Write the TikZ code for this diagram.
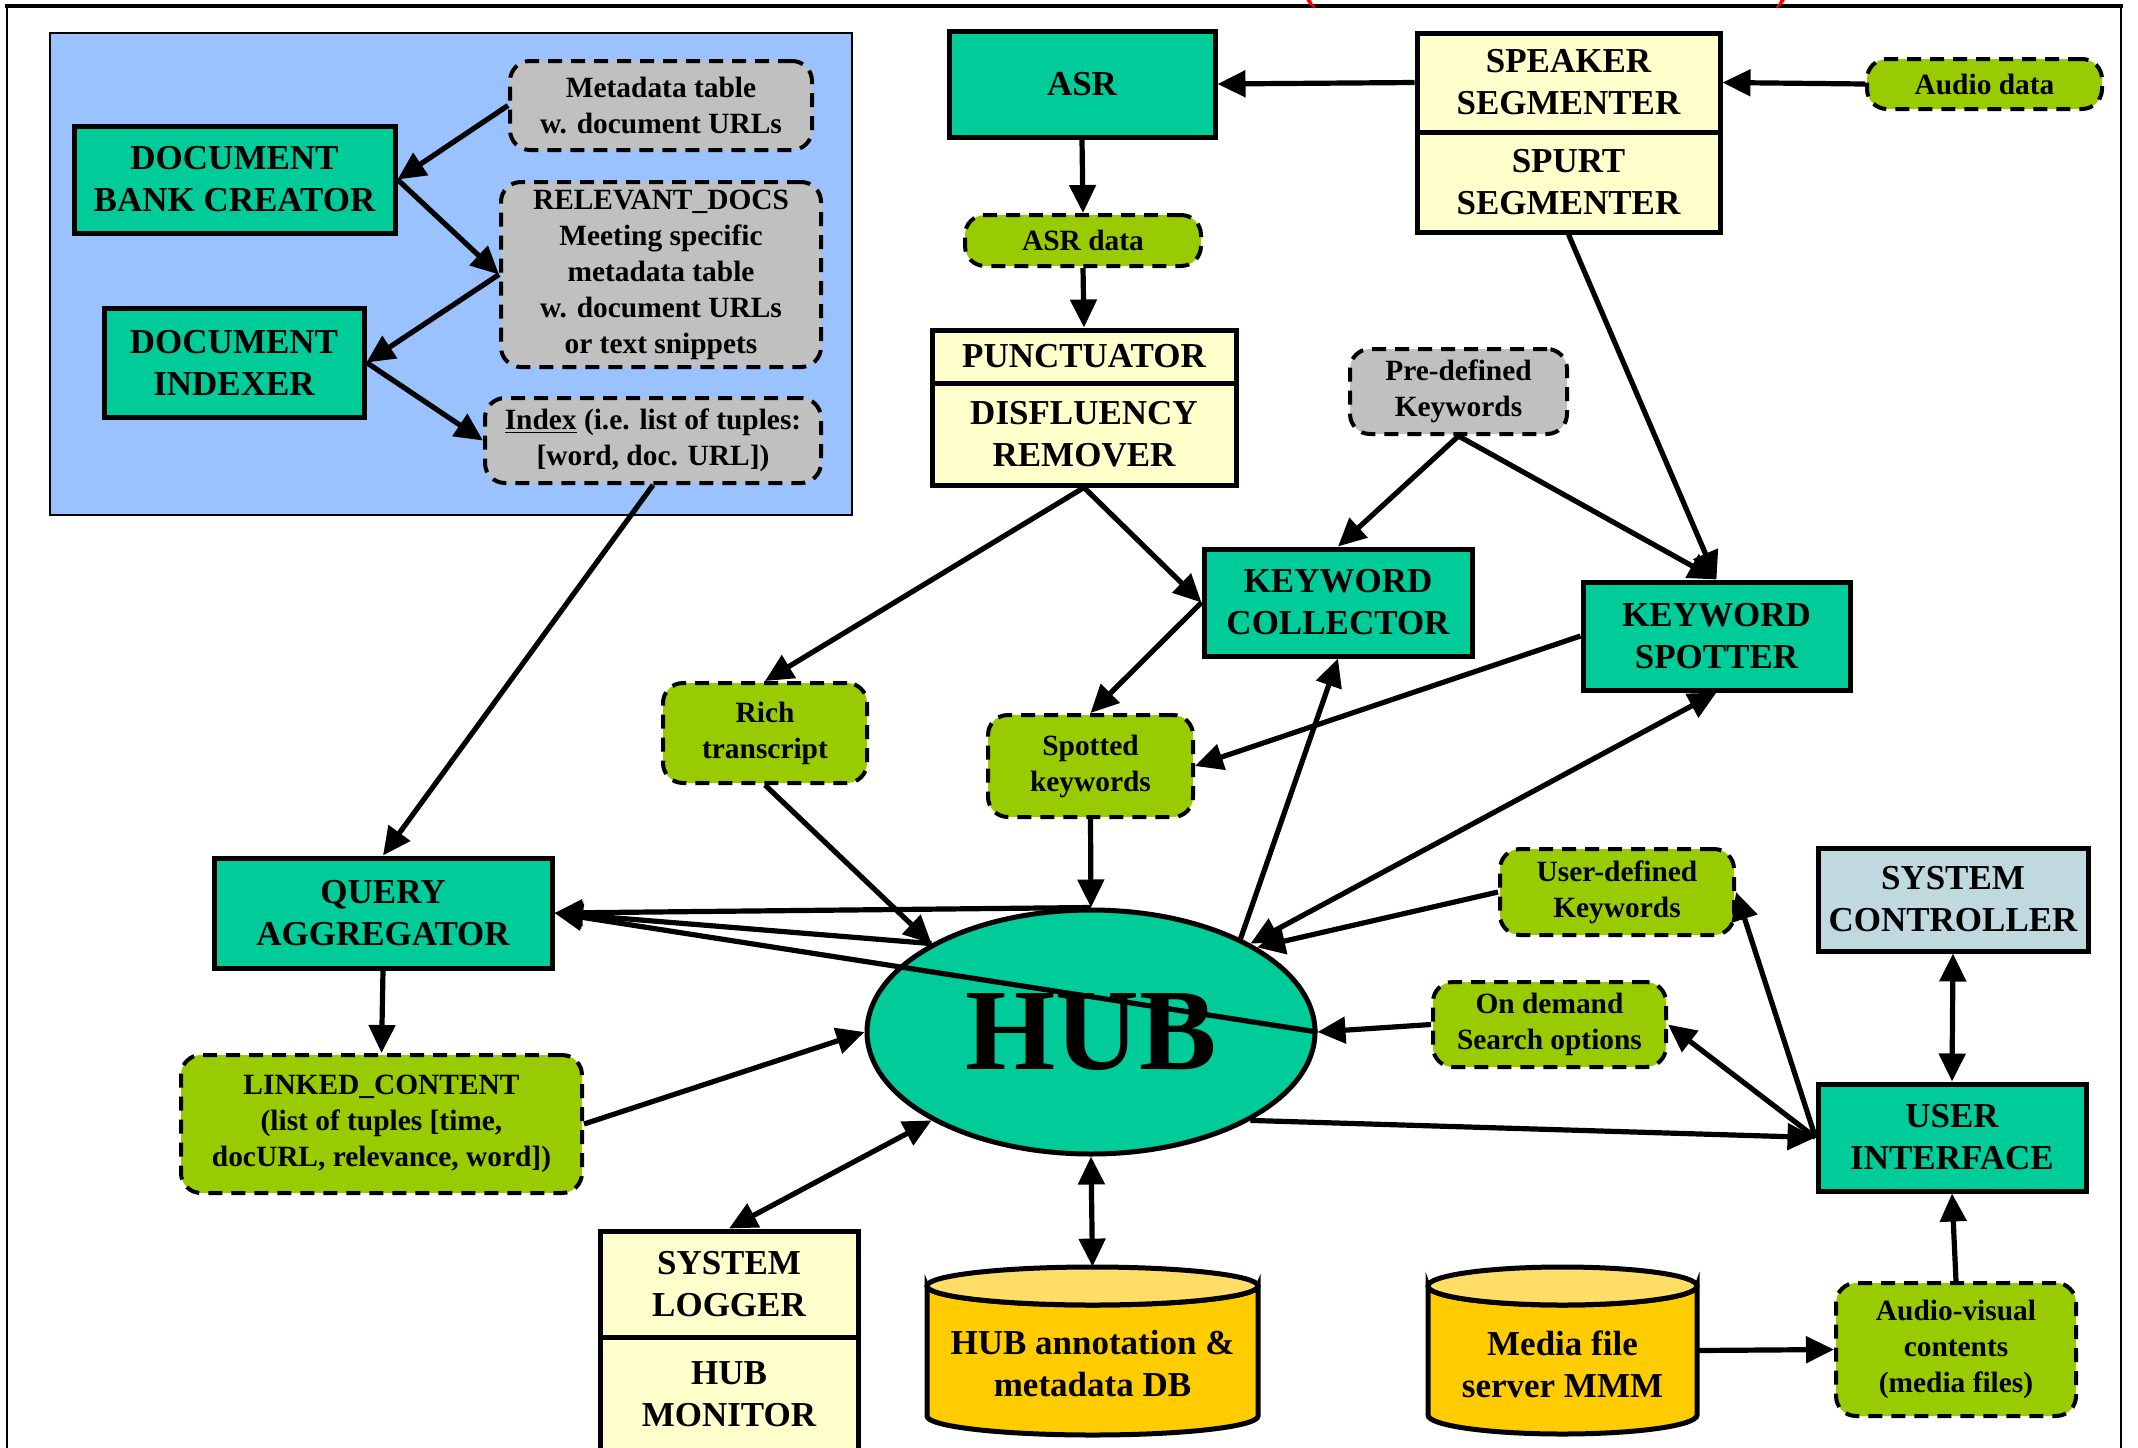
\documentclass[tikz,border=0pt]{standalone}
\usepackage{fontspec}
\setmainfont{Liberation Serif}
\usetikzlibrary{arrows.meta,shapes.geometric,calc}
\definecolor{teal0}{HTML}{00CC99}
\definecolor{yel0}{HTML}{FFFFCC}
\definecolor{lime0}{HTML}{99CC00}
\definecolor{grey0}{HTML}{C0C0C0}
\definecolor{blue0}{HTML}{99C2FF}
\definecolor{sc0}{HTML}{C0D9DF}
\definecolor{cylbody}{HTML}{FFCC00}
\definecolor{cyltop}{HTML}{FFDD66}
\newcommand\fbig{\bfseries\fontsize{17.5}{21}\selectfont}
\newcommand\fsmall{\bfseries\fontsize{14.7}{18}\selectfont}
\newcommand\fhub{\bfseries\fontsize{58}{60}\selectfont}
\tikzset{
  sz/.style 2 args={minimum width=#1*0.5pt, minimum height=#2*0.5pt},
  proc/.style={draw, line width=2.5pt, fill=teal0, font=\fbig, align=center, inner sep=0pt},
  yelbox/.style={proc, fill=yel0},
  databox/.style={draw, line width=2pt, dash pattern=on 7pt off 4.5pt, rounded corners=10pt,
    fill=lime0, font=\fsmall, align=center, inner sep=0pt},
  greybox/.style={databox, fill=grey0},
  tip/.tip={Triangle[length=14pt,width=13pt]},
  conn/.style={line width=2.6pt, -tip},
  biconn/.style={line width=2.6pt, tip-tip},
  cylline/.style={draw, line width=2.5pt},
}
\begin{document}
\begin{tikzpicture}[x=0.5pt,y=-0.5pt]
\useasboundingbox (0,0) rectangle (2138,1447);
\fill[white] (0,0) rectangle (2138,1447);
% outer frame
\draw[line width=1.1pt] (7,1470) -- (7,6) (2121,6) -- (2121,1470);
\draw[line width=1.8pt] (5,6) -- (2123,6);
\node[text=red, font=\bfseries\fontsize{20}{22}\selectfont, anchor=base] (lpar) at (1310,0) {(};
\node[text=red, font=\bfseries\fontsize{20}{22}\selectfont, anchor=base] (rpar) at (1782,0) {)};

% document bank area
\node[draw, line width=1.2pt, fill=blue0, sz={802}{482}, inner sep=0pt] (bluebox) at (451,274) {};
\node[proc, sz={321}{107}] (dbc) at (234.5,179.5) {DOCUMENT\\BANK CREATOR};
\node[proc, sz={260}{109}] (di) at (234,362.5) {DOCUMENT\\INDEXER};
\node[greybox, sz={302}{89}] (meta) at (661,105.5) {Metadata table\\w. document URLs};
\node[greybox, sz={320}{185}] (rel) at (661,274.5) {RELEVANT\_DOCS\\Meeting specific\\metadata table\\w. document URLs\\or text snippets};
\node[greybox, sz={336}{85}] (index) at (653,440.5) {\underline{Index} (i.e. list of tuples:\\{[}word, doc. URL{]})};

% top row
\node[proc, sz={266}{106}] (asr) at (1082,84) {ASR};
\node[yelbox, sz={303}{99}] (speaker) at (1568.5,82.5) {SPEAKER\\SEGMENTER};
\node[yelbox, sz={303}{100}] (spurt) at (1568.5,182) {SPURT\\SEGMENTER};
\node[databox, sz={235}{50}] (audio) at (1984.5,84) {Audio data};
\node[databox, sz={236}{51}] (asrdata) at (1083,240.5) {ASR data};
\node[yelbox, sz={304}{53}] (punct) at (1084,356.5) {PUNCTUATOR};
\node[yelbox, sz={304}{102}] (disfl) at (1084,434) {DISFLUENCY\\REMOVER};
\node[greybox, sz={217}{85}] (pre) at (1458.5,391.5) {Pre-defined\\Keywords};
\node[proc, sz={268}{107}] (kc) at (1338,602.5) {KEYWORD\\COLLECTOR};
\node[proc, sz={267}{108}] (ks) at (1716.5,636) {KEYWORD\\SPOTTER};
\node[databox, sz={204}{100}] (rich) at (765,733) {Rich\\transcript};
\node[databox, sz={205}{102}] (spotted) at (1090.5,766) {Spotted\\keywords};

% hub
\node[ellipse, draw, line width=2.5pt, fill=teal0, sz={448}{244}, inner sep=0pt, font=\fhub] (hub) at (1091,1032) {HUB};
\node[proc, sz={338}{110}] (qa) at (383,913) {QUERY\\AGGREGATOR};
\node[databox, sz={401}{138}] (lc) at (381.5,1124) {LINKED\_CONTENT\\(list of tuples [time,\\docURL, relevance, word])};
\node[databox, sz={234}{86}] (userdef) at (1617,892) {User-defined\\Keywords};
\node[databox, sz={233}{85}] (ondemand) at (1549.5,1024.5) {On demand\\Search options};
\node[proc, fill=sc0, sz={270}{103}] (sc) at (1953,899.5) {SYSTEM\\CONTROLLER};
\node[proc, sz={268}{107}] (ui) at (1952,1137.5) {USER\\INTERFACE};
\node[databox, sz={240}{133}] (av) at (1956,1349.5) {Audio-visual\\contents\\(media files)};

% logger / monitor
\node[yelbox, sz={258}{106}] (sl) at (729,1284) {SYSTEM\\LOGGER};
\node[yelbox, sz={258}{115}] (hm) at (729,1394.5) {HUB\\MONITOR};

% cylinders
\path[fill=cylbody, cylline] (927,1286) -- (927,1416)
  arc[start angle=180, end angle=360, x radius=82.75pt, y radius=9.5pt] -- (1258,1286)
  arc[start angle=360, end angle=180, x radius=82.75pt, y radius=9.5pt] -- cycle;
\draw[fill=cyltop, line width=2.5pt] (1092.5,1286) ellipse[x radius=82.75pt, y radius=9.5pt];
\node[sz={331}{168}, inner sep=0pt] (hubdb) at (1092.5,1351) {};
\node[font=\fbig, align=center, inner sep=0pt] (hubdbtext) at (1092.5,1364) {HUB annotation \&\\metadata DB};

\path[fill=cylbody, cylline] (1428,1286) -- (1428,1415)
  arc[start angle=180, end angle=360, x radius=67.25pt, y radius=9.5pt] -- (1697,1286)
  arc[start angle=360, end angle=180, x radius=67.25pt, y radius=9.5pt] -- cycle;
\draw[fill=cyltop, line width=2.5pt] (1562.5,1286) ellipse[x radius=67.25pt, y radius=9.5pt];
\node[sz={269}{167}, inner sep=0pt] (media) at (1562.5,1350.5) {};
\node[font=\fbig, align=center, inner sep=0pt] (mediatext) at (1562.5,1364) {Media file\\server MMM};

% connectors
\draw[conn] (meta.west) -- (dbc.east);
\draw[conn] (dbc.east) -- (rel.west);
\draw[conn] (rel.west) -- (di.east);
\draw[conn] (di.east) -- (index.west);
\draw[conn] (index.south) -- (qa.north);
\draw[conn] (speaker.west) -- (asr.east);
\draw[conn] (audio.west) -- (speaker.east);
\draw[conn] (asr.south) -- (asrdata.north);
\draw[conn] (asrdata.south) -- (punct.north);
\draw[conn] (spurt.south) -- (ks.north);
\draw[conn] (pre.south) -- (kc.north);
\draw[conn] (pre.south) -- (ks.north);
\draw[conn] (disfl.south) -- (kc.west);
\draw[conn] (disfl.south) -- (rich.north);
\draw[conn] (kc.west) -- (spotted.north);
\draw[conn] (ks.west) -- (spotted.east);
\draw[conn] (rich.south) -- (hub.151);
\draw[conn] (spotted.south) -- (hub.north);
\draw[conn] (hub.north) -- (qa.east);
\draw[conn] (hub.151) -- (qa.east);
\draw[conn] (hub.east) -- (qa.east);
\draw[conn] (hub.32) -- (kc.south);
\draw[biconn] (hub.29) -- (ks.south);
\draw[conn] (userdef.west) -- (hub.27);
\draw[conn] (qa.south) -- (lc.north);
\draw[conn] (lc.east) -- (hub.west);
\draw[biconn] (hub.209) -- (sl.north);
\draw[biconn] (hub.south) -- (hubdb.north);
\draw[conn] (hub.331) -- (ui.west);
\draw[conn] (ondemand.west) -- (hub.east);
\draw[conn] (ui.west) -- (ondemand.east);
\draw[conn] (ui.west) -- (userdef.east);
\draw[biconn] (sc.south) -- (ui.north);
\draw[conn] (av.north) -- (ui.south);
\draw[conn] (media.east) -- (av.west);
\end{tikzpicture}
\end{document}
